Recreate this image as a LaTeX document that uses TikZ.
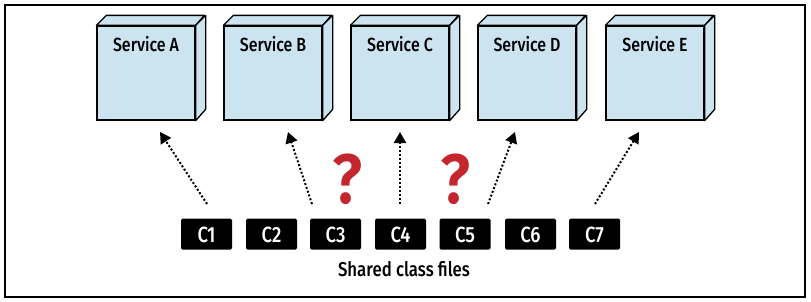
\documentclass[tikz,border=0pt]{standalone}
\usepackage{fontspec}
\setmainfont{Fira Sans}
\newfontfamily\condfont[FakeStretch=0.84]{Fira Sans Medium}
\newfontfamily\condbold[FakeStretch=0.9]{Fira Sans SemiBold}
\usetikzlibrary{arrows.meta}
\definecolor{svcblue}{HTML}{CCE3F0}
\definecolor{qred}{HTML}{C4262E}
\tikzset{
  svc/.style={draw=black, line width=1.3pt, fill=svcblue, minimum width=98pt, minimum height=94pt, inner sep=0pt},
  svcface/.style={draw=black, line width=1.3pt, fill=svcblue, line join=round},
  svclabel/.style={font=\condfont\fontsize{19}{20}\selectfont, anchor=base, inner sep=0pt},
  cls/.style={fill=black, rounded corners=1.5pt, minimum width=51pt, minimum height=31pt, inner sep=0pt},
  clstext/.style={text=white, font=\condfont\fontsize{22}{23}\selectfont, anchor=base, inner sep=0pt},
  dep/.style={line width=2pt, dash pattern=on 2pt off 2pt, -{Triangle[width=12pt,length=11pt]}},
  qmark/.style={text=qred, font=\condbold\fontsize{70}{70}\selectfont, inner sep=0pt, anchor=base},
}
\begin{document}
\begin{tikzpicture}[x=1pt,y=-1pt]
\useasboundingbox (0,0) rectangle (811,301);
\draw[line width=1.3pt] (5,5) rectangle (805,297);
% services
\foreach \n/\x/\t in {A/146/Service A, B/273/Service B, C/400/Service C, D/527/Service D, E/655/Service E}{
  \node[svc] (\n) at (\x,73) {};
  \draw[svcface] (\n.north west) -- ++(10,-10) -- ++(98,0) -- (\n.north east) -- cycle;
  \draw[svcface] (\n.north east) -- ++(10,-10) -- ++(0,94) -- (\n.south east) -- cycle;
  \node[svclabel] (\n t) at ([yshift=-26pt]\n.north) {\t};
}
% class files
\foreach \i/\x in {1/206.5,2/271.5,3/335.5,4/400.5,5/465,6/530.5,7/594.5}{
  \node[cls] (c\i) at (\x,234) {};
  \node[clstext] (c\i t) at (\x,242) {C\i};
}
\node[font=\condfont\fontsize{20}{21}\selectfont, inner sep=0pt, anchor=base] (lbl) at (404,276) {Shared class files};
% connector anchors
\coordinate (s1) at (207,204); \coordinate (t1) at (160,132);
\coordinate (s2) at (312,204); \coordinate (t2) at (288,132);
\coordinate (s4) at (400,204); \coordinate (t4) at (400,132);
\coordinate (s5) at (488,204); \coordinate (t5) at (515,132);
\coordinate (s7) at (595,204); \coordinate (t7) at (639,132);
\draw[dep] (s1) -- (t1);
\draw[dep] (s2) -- (t2);
\draw[dep] (s4) -- (t4);
\draw[dep] (s5) -- (t5);
\draw[dep] (s7) -- (t7);
\node[qmark] (q1) at (347,203) {?};
\node[qmark] (q2) at (455,203) {?};
\end{tikzpicture}
\end{document}
